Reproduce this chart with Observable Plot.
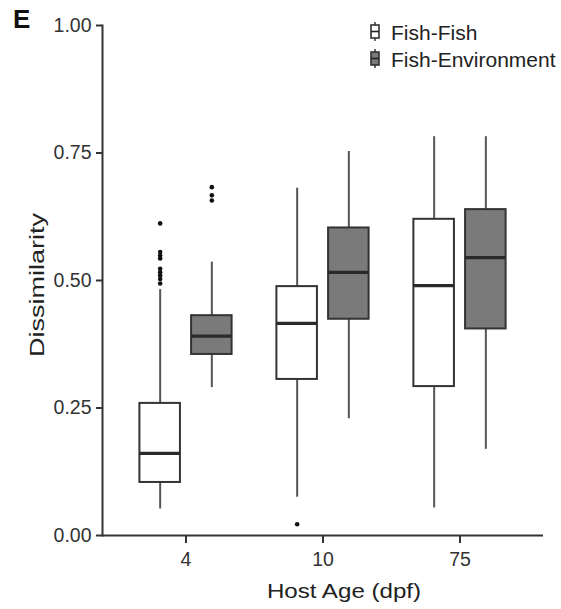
<!DOCTYPE html>
<html><head><meta charset="utf-8">
<script src="https://cdn.jsdelivr.net/npm/d3@7"></script>
<script src="https://cdn.jsdelivr.net/npm/@observablehq/plot@0.6"></script>
<style>
body{margin:0;background:#fff;}
#wrap{position:relative;width:561px;height:609px;font-family:"Liberation Sans",Arial,sans-serif;}
#overlay{position:absolute;left:0;top:0;pointer-events:none;}
</style></head>
<body><div id="wrap"></div>
<script>
// ---- data ----
const ages = ["4", "10", "75"];
const groups = ["Fish-Fish", "Fish-Environment"];
const groupFill = ["#ffffff", "#7a7a7a"];

const ffLower  = [0.052, 0.075, 0.054];
const ffQ1     = [0.104, 0.306, 0.292];
const ffMedian = [0.161, 0.416, 0.490];
const ffQ3     = [0.259, 0.488, 0.620];
const ffUpper  = [0.482, 0.681, 0.782];

const feLower  = [0.290, 0.229, 0.169];
const feQ1     = [0.355, 0.424, 0.405];
const feMedian = [0.391, 0.516, 0.545];
const feQ3     = [0.431, 0.603, 0.639];
const feUpper  = [0.536, 0.753, 0.782];

const outlierAge   = ["4","4","4","4","4","4","4","4","4", "4","4","4", "10"];
const outlierGroup = ["Fish-Fish","Fish-Fish","Fish-Fish","Fish-Fish","Fish-Fish","Fish-Fish","Fish-Fish","Fish-Fish","Fish-Fish",
                      "Fish-Environment","Fish-Environment","Fish-Environment", "Fish-Fish"];
const outlierValue = [0.612, 0.556, 0.549, 0.543, 0.523, 0.516, 0.510, 0.503, 0.494,
                      0.683, 0.667, 0.657, 0.022];

const yTicks = [0, 0.25, 0.5, 0.75, 1];
const xTitle = "Host Age (dpf)";
const yTitle = "Dissimilarity";
const panelLabel = "E";

// ---- build tables ----
const stats = {
  "Fish-Fish": [ffLower, ffQ1, ffMedian, ffQ3, ffUpper],
  "Fish-Environment": [feLower, feQ1, feMedian, feQ3, feUpper]
};
const rows = [];
ages.forEach((a, i) => {
  for (const g of groups) {
    const [lo, q1, md, q3, up] = stats[g];
    rows.push({age: a, group: g, lower: lo[i], q1: q1[i], median: md[i], q3: q3[i], upper: up[i]});
  }
});
const outliers = outlierValue.map((v, i) => ({age: outlierAge[i], group: outlierGroup[i], value: v}));

// ---- layout ----
const W = 561, H = 609, ML = 102, MR = 18, MT = 25, MB = 74;
const step = (W - ML - MR) / (ages.length + 0.2);
const boxW = 0.3 * step, off = 0.1875 * step, inset = (step - boxW) / 2;
const fillOf = Object.fromEntries(groups.map((g, i) => [g, groupFill[i]]));
const dxOf = {"Fish-Fish": -off, "Fish-Environment": off};

const marks = [];
for (const g of groups) {
  const d = rows.filter(r => r.group === g);
  const o = outliers.filter(r => r.group === g);
  const dx = dxOf[g];
  marks.push(
    Plot.ruleX(d, {x: "age", y1: "lower", y2: "q1", dx, stroke: "#555", strokeWidth: 2}),
    Plot.ruleX(d, {x: "age", y1: "q3", y2: "upper", dx, stroke: "#555", strokeWidth: 2}),
    Plot.rect(d, {x: "age", y1: "q1", y2: "q3", dx, insetLeft: inset, insetRight: inset,
                  fill: fillOf[g], stroke: "#333", strokeWidth: 2}),
    Plot.tickY(d, {x: "age", y: "median", dx, insetLeft: inset, insetRight: inset,
                   stroke: "#2a2a2a", strokeWidth: 3.2}),
    Plot.dot(o, {x: "age", y: "value", dx, r: 2.3, fill: "#111"})
  );
}

const chart = Plot.plot({
  width: W, height: H,
  marginLeft: ML, marginRight: MR, marginTop: MT, marginBottom: MB,
  style: {fontFamily: "Liberation Sans, Arial, sans-serif", fontSize: "19.5px", color: "#333", background: "#fff"},
  x: {type: "band", domain: ages, paddingInner: 0, paddingOuter: 0.1, label: null},
  y: {domain: [0, 1], label: null},
  marks: [
    ...marks,
    Plot.axisY({ticks: yTicks, tickFormat: d3.format(".2f"), tickSize: 6, tickPadding: 5, strokeWidth: 2,
                fontSize: 19.5, fill: "#333", label: null}),
    Plot.axisX({tickSize: 8, tickPadding: 9, strokeWidth: 2, fontSize: 19.5, fill: "#333", label: null}),
    Plot.ruleY([0], {stroke: "#333", strokeWidth: 2}),
    Plot.frame({anchor: "left", stroke: "#333", strokeWidth: 2})
  ]
});

const wrap = document.getElementById("wrap");
wrap.appendChild(chart);

// ---- overlay texts and legend ----
const ns = "http://www.w3.org/2000/svg";
const ov = document.createElementNS(ns, "svg");
ov.setAttribute("id", "overlay");
ov.setAttribute("width", W); ov.setAttribute("height", H);
function el(tag, attrs, text) {
  const e = document.createElementNS(ns, tag);
  for (const k in attrs) e.setAttribute(k, attrs[k]);
  if (text != null) e.textContent = text;
  ov.appendChild(e);
  return e;
}
const ff = "Liberation Sans, Arial, sans-serif";
el("text", {x: 13, y: 28, "font-family": ff, "font-size": 26, "font-weight": "bold", fill: "#111"}, panelLabel);
el("text", {transform: "translate(344,598) scale(1.15,1)", "text-anchor": "middle", "font-family": ff, "font-size": 21, fill: "#222"}, xTitle);
el("text", {transform: "translate(44,285) rotate(-90) scale(1.35,1)", "text-anchor": "middle", "font-family": ff, "font-size": 20, fill: "#222"}, yTitle);
groups.forEach((g, i) => {
  const cy = 31.5 + i * 27;
  el("line", {x1: 375, x2: 375, y1: cy - 9.5, y2: cy + 9.5, stroke: "#444", "stroke-width": 1.6});
  el("rect", {x: 371, y: cy - 6.5, width: 8, height: 13, fill: groupFill[i], stroke: "#333", "stroke-width": 1.6});
  el("line", {x1: 371, x2: 379, y1: cy, y2: cy, stroke: "#222", "stroke-width": 1.6});
  el("text", {x: 391, y: cy + 8, "font-family": ff, "font-size": 21, fill: "#222"}, g);
});
wrap.appendChild(ov);
</script>
</body></html>
